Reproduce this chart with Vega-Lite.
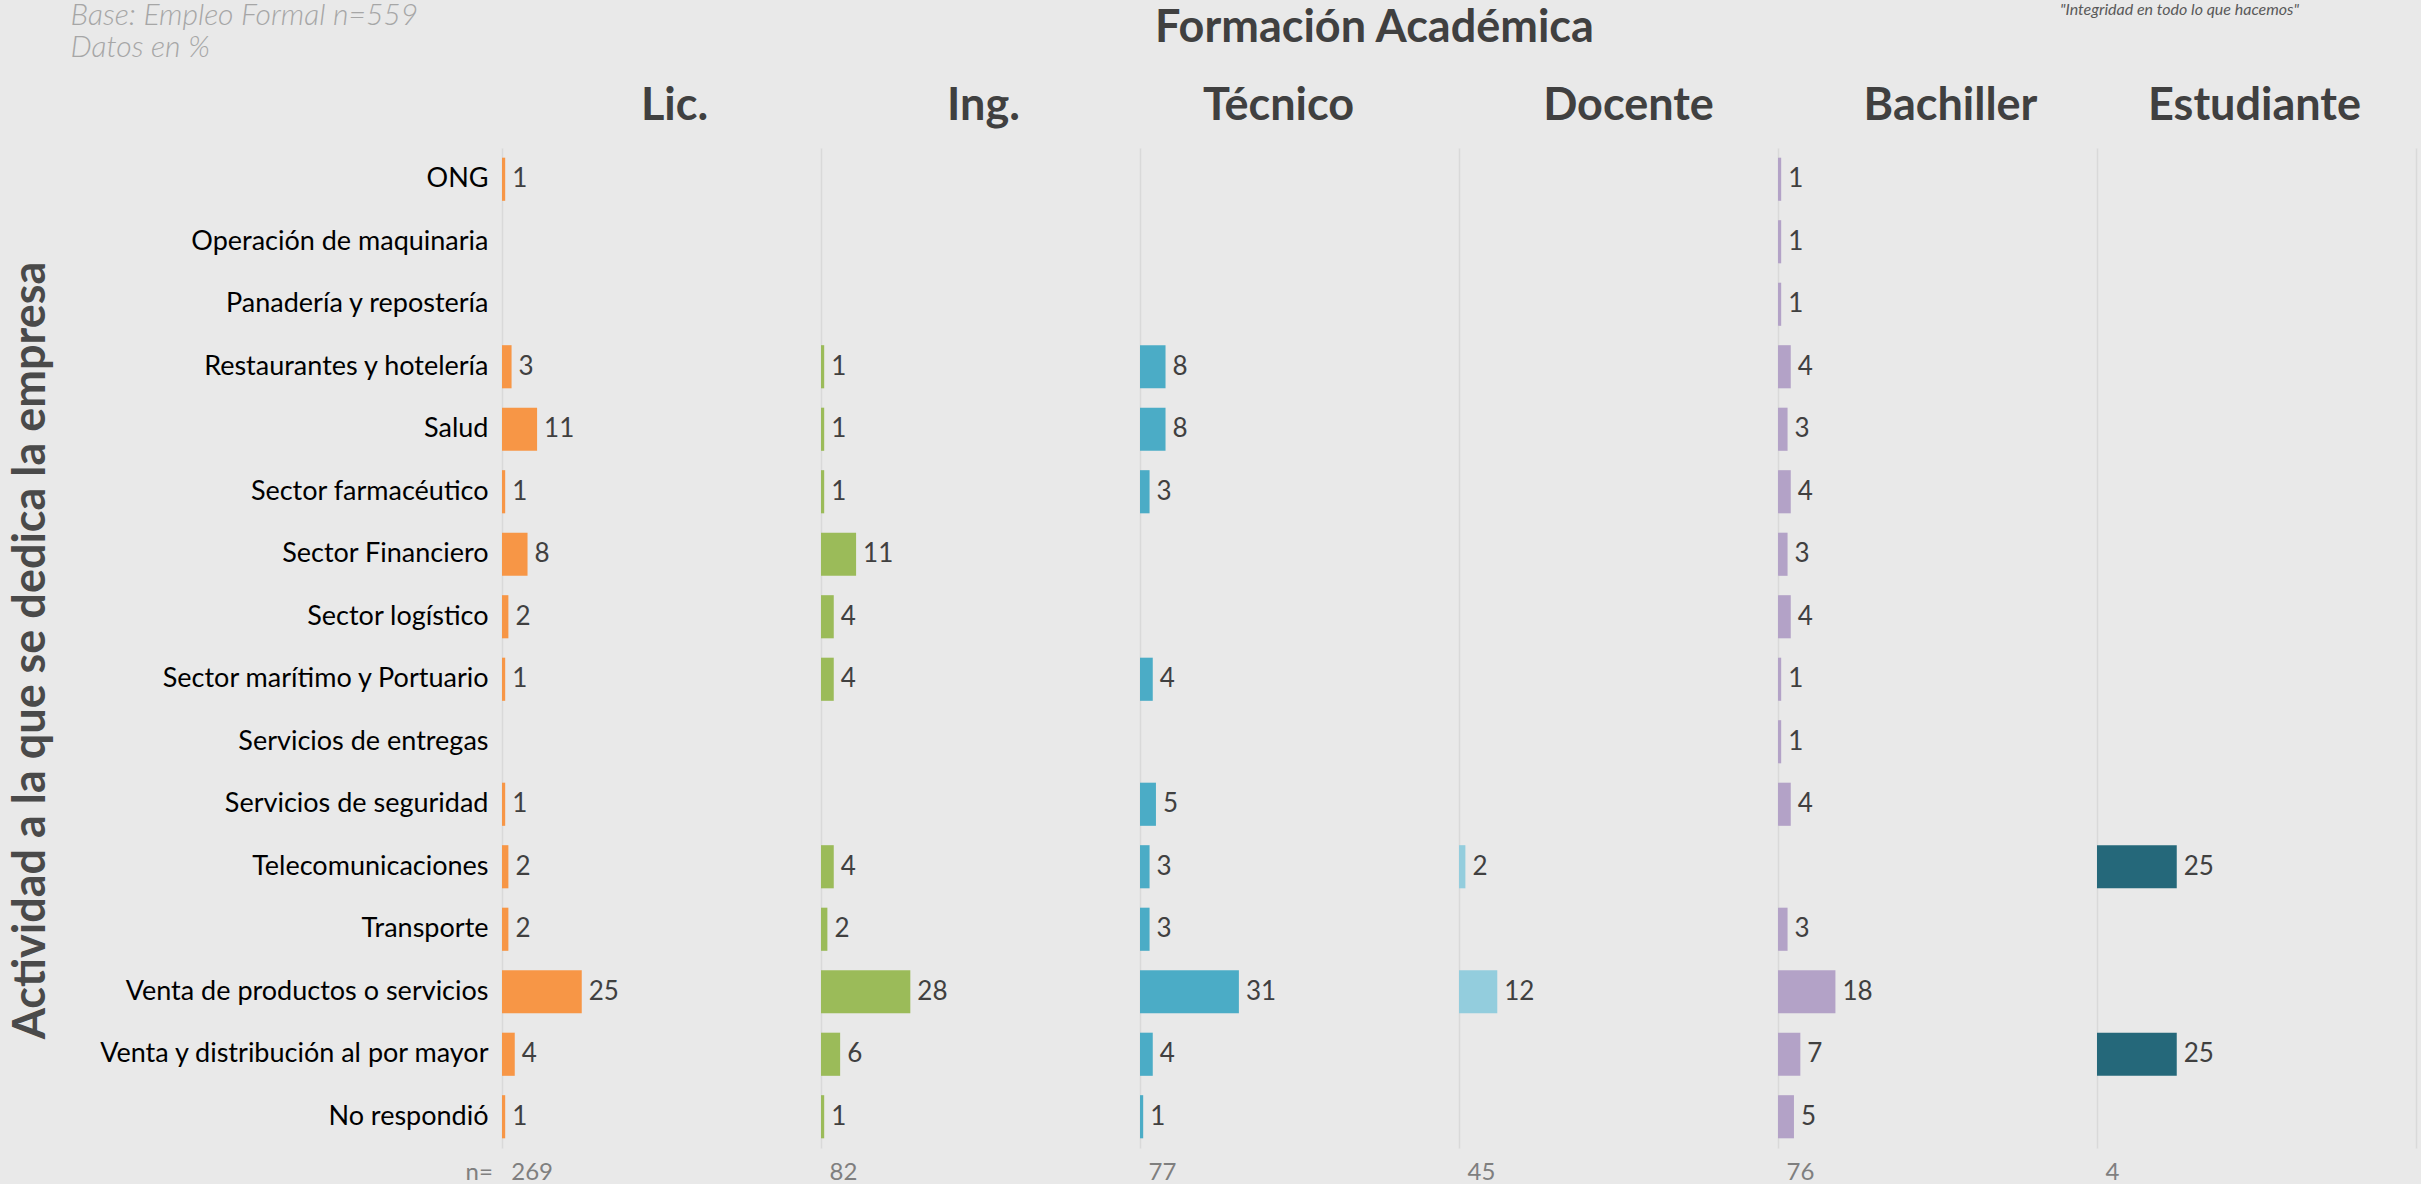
{
  "$schema": "https://vega.github.io/schema/vega-lite/v6.json",
  "background": "#e9e9e9",
  "padding": {"left": 7, "top": 0, "right": 5, "bottom": 0},
  "spacing": 0,
  "bounds": "flush",
  "data": {"values": [
    {"act": "ONG", "edu": "Lic.", "val": 1},
    {"act": "Restaurantes y hotelería", "edu": "Lic.", "val": 3},
    {"act": "Salud", "edu": "Lic.", "val": 11},
    {"act": "Sector farmacéutico", "edu": "Lic.", "val": 1},
    {"act": "Sector Financiero", "edu": "Lic.", "val": 8},
    {"act": "Sector logístico", "edu": "Lic.", "val": 2},
    {"act": "Sector marítimo y Portuario", "edu": "Lic.", "val": 1},
    {"act": "Servicios de seguridad", "edu": "Lic.", "val": 1},
    {"act": "Telecomunicaciones", "edu": "Lic.", "val": 2},
    {"act": "Transporte", "edu": "Lic.", "val": 2},
    {"act": "Venta de productos o servicios", "edu": "Lic.", "val": 25},
    {"act": "Venta y distribución al por mayor", "edu": "Lic.", "val": 4},
    {"act": "No respondió", "edu": "Lic.", "val": 1},
    {"act": "Restaurantes y hotelería", "edu": "Ing.", "val": 1},
    {"act": "Salud", "edu": "Ing.", "val": 1},
    {"act": "Sector farmacéutico", "edu": "Ing.", "val": 1},
    {"act": "Sector Financiero", "edu": "Ing.", "val": 11},
    {"act": "Sector logístico", "edu": "Ing.", "val": 4},
    {"act": "Sector marítimo y Portuario", "edu": "Ing.", "val": 4},
    {"act": "Telecomunicaciones", "edu": "Ing.", "val": 4},
    {"act": "Transporte", "edu": "Ing.", "val": 2},
    {"act": "Venta de productos o servicios", "edu": "Ing.", "val": 28},
    {"act": "Venta y distribución al por mayor", "edu": "Ing.", "val": 6},
    {"act": "No respondió", "edu": "Ing.", "val": 1},
    {"act": "Restaurantes y hotelería", "edu": "Técnico", "val": 8},
    {"act": "Salud", "edu": "Técnico", "val": 8},
    {"act": "Sector farmacéutico", "edu": "Técnico", "val": 3},
    {"act": "Sector marítimo y Portuario", "edu": "Técnico", "val": 4},
    {"act": "Servicios de seguridad", "edu": "Técnico", "val": 5},
    {"act": "Telecomunicaciones", "edu": "Técnico", "val": 3},
    {"act": "Transporte", "edu": "Técnico", "val": 3},
    {"act": "Venta de productos o servicios", "edu": "Técnico", "val": 31},
    {"act": "Venta y distribución al por mayor", "edu": "Técnico", "val": 4},
    {"act": "No respondió", "edu": "Técnico", "val": 1},
    {"act": "Telecomunicaciones", "edu": "Docente", "val": 2},
    {"act": "Venta de productos o servicios", "edu": "Docente", "val": 12},
    {"act": "ONG", "edu": "Bachiller", "val": 1},
    {"act": "Operación de maquinaria", "edu": "Bachiller", "val": 1},
    {"act": "Panadería y repostería", "edu": "Bachiller", "val": 1},
    {"act": "Restaurantes y hotelería", "edu": "Bachiller", "val": 4},
    {"act": "Salud", "edu": "Bachiller", "val": 3},
    {"act": "Sector farmacéutico", "edu": "Bachiller", "val": 4},
    {"act": "Sector Financiero", "edu": "Bachiller", "val": 3},
    {"act": "Sector logístico", "edu": "Bachiller", "val": 4},
    {"act": "Sector marítimo y Portuario", "edu": "Bachiller", "val": 1},
    {"act": "Servicios de entregas", "edu": "Bachiller", "val": 1},
    {"act": "Servicios de seguridad", "edu": "Bachiller", "val": 4},
    {"act": "Transporte", "edu": "Bachiller", "val": 3},
    {"act": "Venta de productos o servicios", "edu": "Bachiller", "val": 18},
    {"act": "Venta y distribución al por mayor", "edu": "Bachiller", "val": 7},
    {"act": "No respondió", "edu": "Bachiller", "val": 5},
    {"act": "Telecomunicaciones", "edu": "Estudiante", "val": 25},
    {"act": "Venta y distribución al por mayor", "edu": "Estudiante", "val": 25}
  ]},
  "hconcat": [
    {
      "width": 319, "height": 1000,
      "transform": [{"filter": "datum.edu === 'Lic.'"}],
      "layer": [
        {
          "mark": {"type": "bar", "color": "#F79646"},
          "encoding": {
            "y": {"field": "act", "type": "nominal",
              "scale": {"domain": ["ONG","Operación de maquinaria","Panadería y repostería","Restaurantes y hotelería","Salud","Sector farmacéutico","Sector Financiero","Sector logístico","Sector marítimo y Portuario","Servicios de entregas","Servicios de seguridad","Telecomunicaciones","Transporte","Venta de productos o servicios","Venta y distribución al por mayor","No respondió"], "paddingInner": 0.31, "paddingOuter": 0.155},
              "axis": {"orient": "left", "labelFontSize": 27, "labelColor": "#000000", "labelPadding": 14, "labelLimit": 800, "ticks": false, "domain": false, "grid": false,
                "title": "Actividad a la que se dedica la empresa", "titleX": -472, "titleY": 502, "titleAngle": 270, "titleAlign": "center", "titleBaseline": "middle", "titleFontSize": 45, "titleFontWeight": "bold", "titleColor": "#4a4a4a"}},
            "x": {"field": "val", "type": "quantitative", "scale": {"domain": [0, 100]},
              "axis": {"orient": "bottom", "values": [0], "grid": true, "gridColor": "#d9d9d9", "gridWidth": 1.5, "labels": false, "ticks": false, "domain": false,
                "title": "n=\u00a0\u00a0\u00a0269", "titleX": -37, "titleY": 24, "titleAlign": "left", "titleBaseline": "middle", "titleFontSize": 24, "titleFontWeight": "normal", "titleColor": "#7f7f7f"}}
          }
        },
        {
          "mark": {"type": "text", "align": "left", "baseline": "middle", "dx": 7, "fontSize": 26, "color": "#404040"},
          "encoding": {
            "y": {"field": "act", "type": "nominal",
              "axis": {"orient": "right", "labels": false, "ticks": false, "domain": false, "grid": false,
                "title": ["Base: Empleo Formal n=559", "Datos en %"], "titleX": -751, "titleY": -148, "titleAngle": 0, "titleAlign": "left", "titleBaseline": "top", "titleLineHeight": 32, "titleFontSize": 30, "titleFontStyle": "italic", "titleFontWeight": 300, "titleColor": "#a6a6a6"}},
            "x": {"field": "val", "type": "quantitative",
              "axis": {"orient": "top", "values": [], "grid": false, "labels": false, "ticks": false, "domain": false,
                "title": "Lic.", "titleX": 172, "titleY": -43, "titleAlign": "center", "titleBaseline": "middle", "titleFontSize": 45, "titleFontWeight": "bold", "titleColor": "#404040"}},
            "text": {"field": "val", "type": "quantitative"}
          }
        }
      ],
      "resolve": {"axis": {"x": "independent", "y": "independent"}}
    },
    {
      "width": 319, "height": 1000,
      "transform": [{"filter": "datum.edu === 'Ing.'"}],
      "encoding": {
        "y": {"field": "act", "type": "nominal",
          "scale": {"domain": ["ONG","Operación de maquinaria","Panadería y repostería","Restaurantes y hotelería","Salud","Sector farmacéutico","Sector Financiero","Sector logístico","Sector marítimo y Portuario","Servicios de entregas","Servicios de seguridad","Telecomunicaciones","Transporte","Venta de productos o servicios","Venta y distribución al por mayor","No respondió"], "paddingInner": 0.31, "paddingOuter": 0.155},
          "axis": null}
      },
      "layer": [
        {
          "mark": {"type": "bar", "color": "#9BBB59"},
          "encoding": {
            "x": {"field": "val", "type": "quantitative", "scale": {"domain": [0, 100]},
              "axis": {"orient": "bottom", "values": [0], "grid": true, "gridColor": "#d9d9d9", "gridWidth": 1.5, "labels": false, "ticks": false, "domain": false,
                "title": "82", "titleX": 8, "titleY": 24, "titleAlign": "left", "titleBaseline": "middle", "titleFontSize": 24, "titleFontWeight": "normal", "titleColor": "#7f7f7f"}}
          }
        },
        {
          "mark": {"type": "text", "align": "left", "baseline": "middle", "dx": 7, "fontSize": 26, "color": "#404040"},
          "encoding": {
            "x": {"field": "val", "type": "quantitative",
              "axis": {"orient": "top", "values": [], "grid": false, "labels": false, "ticks": false, "domain": false,
                "title": "Ing.", "titleX": 162, "titleY": -43, "titleAlign": "center", "titleBaseline": "middle", "titleFontSize": 45, "titleFontWeight": "bold", "titleColor": "#404040"}},
            "text": {"field": "val", "type": "quantitative"}
          }
        }
      ],
      "resolve": {"axis": {"x": "independent"}}
    },
    {
      "width": 319, "height": 1000,
      "transform": [{"filter": "datum.edu === 'Técnico'"}],
      "encoding": {
        "y": {"field": "act", "type": "nominal",
          "scale": {"domain": ["ONG","Operación de maquinaria","Panadería y repostería","Restaurantes y hotelería","Salud","Sector farmacéutico","Sector Financiero","Sector logístico","Sector marítimo y Portuario","Servicios de entregas","Servicios de seguridad","Telecomunicaciones","Transporte","Venta de productos o servicios","Venta y distribución al por mayor","No respondió"], "paddingInner": 0.31, "paddingOuter": 0.155},
          "axis": {"orient": "left", "labels": false, "ticks": false, "domain": false, "grid": false,
            "title": "Formación Académica", "titleX": 234, "titleY": -121, "titleAngle": 0, "titleAlign": "center", "titleBaseline": "middle", "titleFontSize": 45, "titleFontWeight": "bold", "titleColor": "#404040"}}
      },
      "layer": [
        {
          "mark": {"type": "bar", "color": "#4BACC6"},
          "encoding": {
            "x": {"field": "val", "type": "quantitative", "scale": {"domain": [0, 100]},
              "axis": {"orient": "bottom", "values": [0], "grid": true, "gridColor": "#d9d9d9", "gridWidth": 1.5, "labels": false, "ticks": false, "domain": false,
                "title": "77", "titleX": 8, "titleY": 24, "titleAlign": "left", "titleBaseline": "middle", "titleFontSize": 24, "titleFontWeight": "normal", "titleColor": "#7f7f7f"}}
          }
        },
        {
          "mark": {"type": "text", "align": "left", "baseline": "middle", "dx": 7, "fontSize": 26, "color": "#404040"},
          "encoding": {
            "x": {"field": "val", "type": "quantitative",
              "axis": {"orient": "top", "values": [], "grid": false, "labels": false, "ticks": false, "domain": false,
                "title": "Técnico", "titleX": 138, "titleY": -43, "titleAlign": "center", "titleBaseline": "middle", "titleFontSize": 45, "titleFontWeight": "bold", "titleColor": "#404040"}},
            "text": {"field": "val", "type": "quantitative"}
          }
        }
      ],
      "resolve": {"axis": {"x": "independent"}}
    },
    {
      "width": 319, "height": 1000,
      "transform": [{"filter": "datum.edu === 'Docente'"}],
      "encoding": {
        "y": {"field": "act", "type": "nominal",
          "scale": {"domain": ["ONG","Operación de maquinaria","Panadería y repostería","Restaurantes y hotelería","Salud","Sector farmacéutico","Sector Financiero","Sector logístico","Sector marítimo y Portuario","Servicios de entregas","Servicios de seguridad","Telecomunicaciones","Transporte","Venta de productos o servicios","Venta y distribución al por mayor","No respondió"], "paddingInner": 0.31, "paddingOuter": 0.155},
          "axis": null}
      },
      "layer": [
        {
          "mark": {"type": "bar", "color": "#93CDDD"},
          "encoding": {
            "x": {"field": "val", "type": "quantitative", "scale": {"domain": [0, 100]},
              "axis": {"orient": "bottom", "values": [0], "grid": true, "gridColor": "#d9d9d9", "gridWidth": 1.5, "labels": false, "ticks": false, "domain": false,
                "title": "45", "titleX": 8, "titleY": 24, "titleAlign": "left", "titleBaseline": "middle", "titleFontSize": 24, "titleFontWeight": "normal", "titleColor": "#7f7f7f"}}
          }
        },
        {
          "mark": {"type": "text", "align": "left", "baseline": "middle", "dx": 7, "fontSize": 26, "color": "#404040"},
          "encoding": {
            "x": {"field": "val", "type": "quantitative",
              "axis": {"orient": "top", "values": [], "grid": false, "labels": false, "ticks": false, "domain": false,
                "title": "Docente", "titleX": 169, "titleY": -43, "titleAlign": "center", "titleBaseline": "middle", "titleFontSize": 45, "titleFontWeight": "bold", "titleColor": "#404040"}},
            "text": {"field": "val", "type": "quantitative"}
          }
        }
      ],
      "resolve": {"axis": {"x": "independent"}}
    },
    {
      "width": 319, "height": 1000,
      "transform": [{"filter": "datum.edu === 'Bachiller'"}],
      "encoding": {
        "y": {"field": "act", "type": "nominal",
          "scale": {"domain": ["ONG","Operación de maquinaria","Panadería y repostería","Restaurantes y hotelería","Salud","Sector farmacéutico","Sector Financiero","Sector logístico","Sector marítimo y Portuario","Servicios de entregas","Servicios de seguridad","Telecomunicaciones","Transporte","Venta de productos o servicios","Venta y distribución al por mayor","No respondió"], "paddingInner": 0.31, "paddingOuter": 0.155},
          "axis": null}
      },
      "layer": [
        {
          "mark": {"type": "bar", "color": "#B3A2C7"},
          "encoding": {
            "x": {"field": "val", "type": "quantitative", "scale": {"domain": [0, 100]},
              "axis": {"orient": "bottom", "values": [0], "grid": true, "gridColor": "#d9d9d9", "gridWidth": 1.5, "labels": false, "ticks": false, "domain": false,
                "title": "76", "titleX": 8, "titleY": 24, "titleAlign": "left", "titleBaseline": "middle", "titleFontSize": 24, "titleFontWeight": "normal", "titleColor": "#7f7f7f"}}
          }
        },
        {
          "mark": {"type": "text", "align": "left", "baseline": "middle", "dx": 7, "fontSize": 26, "color": "#404040"},
          "encoding": {
            "x": {"field": "val", "type": "quantitative",
              "axis": {"orient": "top", "values": [], "grid": false, "labels": false, "ticks": false, "domain": false,
                "title": "Bachiller", "titleX": 172, "titleY": -43, "titleAlign": "center", "titleBaseline": "middle", "titleFontSize": 45, "titleFontWeight": "bold", "titleColor": "#404040"}},
            "text": {"field": "val", "type": "quantitative"}
          }
        }
      ],
      "resolve": {"axis": {"x": "independent"}}
    },
    {
      "width": 319, "height": 1000,
      "transform": [{"filter": "datum.edu === 'Estudiante'"}],
      "encoding": {
        "y": {"field": "act", "type": "nominal",
          "scale": {"domain": ["ONG","Operación de maquinaria","Panadería y repostería","Restaurantes y hotelería","Salud","Sector farmacéutico","Sector Financiero","Sector logístico","Sector marítimo y Portuario","Servicios de entregas","Servicios de seguridad","Telecomunicaciones","Transporte","Venta de productos o servicios","Venta y distribución al por mayor","No respondió"], "paddingInner": 0.31, "paddingOuter": 0.155},
          "axis": {"orient": "left", "labels": false, "ticks": false, "domain": false, "grid": false,
            "title": "\"Integridad en todo lo que hacemos\"", "titleX": 82, "titleY": -139, "titleAngle": 0, "titleAlign": "center", "titleBaseline": "middle", "titleFontSize": 16, "titleFontStyle": "italic", "titleFontWeight": "normal", "titleColor": "#595959"}}
      },
      "layer": [
        {
          "mark": {"type": "bar", "color": "#25687A"},
          "encoding": {
            "x": {"field": "val", "type": "quantitative", "scale": {"domain": [0, 100]},
              "axis": {"orient": "bottom", "values": [0, 100], "grid": true, "gridColor": "#d9d9d9", "gridWidth": 1.5, "labels": false, "ticks": false, "domain": false,
                "title": "4", "titleX": 8, "titleY": 24, "titleAlign": "left", "titleBaseline": "middle", "titleFontSize": 24, "titleFontWeight": "normal", "titleColor": "#7f7f7f"}}
          }
        },
        {
          "mark": {"type": "text", "align": "left", "baseline": "middle", "dx": 7, "fontSize": 26, "color": "#404040"},
          "encoding": {
            "x": {"field": "val", "type": "quantitative",
              "axis": {"orient": "top", "values": [], "grid": false, "labels": false, "ticks": false, "domain": false,
                "title": "Estudiante", "titleX": 157, "titleY": -43, "titleAlign": "center", "titleBaseline": "middle", "titleFontSize": 45, "titleFontWeight": "bold", "titleColor": "#404040"}},
            "text": {"field": "val", "type": "quantitative"}
          }
        }
      ],
      "resolve": {"axis": {"x": "independent"}}
    }
  ],
  "config": {
    "font": "Lato",
    "view": {"stroke": null},
    "axis": {"labelFont": "Lato", "titleFont": "Lato"},
    "text": {"font": "Lato"}
  }
}
